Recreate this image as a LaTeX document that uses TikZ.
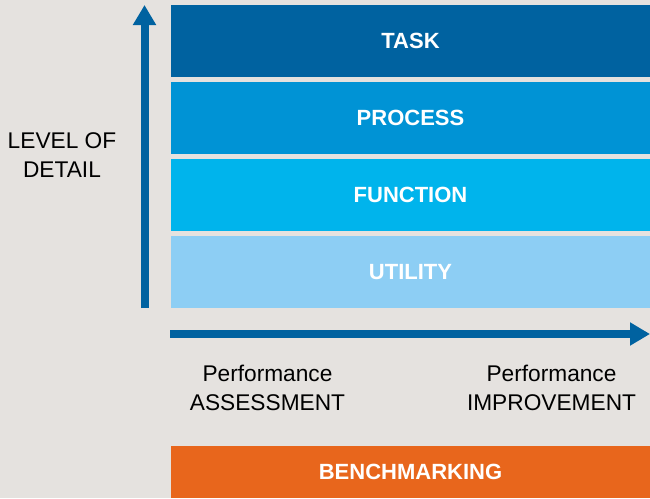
\documentclass[tikz,border=0pt]{standalone}
\usepackage{fontspec}
\setmainfont{Liberation Sans}
\usepackage{tikz}
\usetikzlibrary{arrows.meta}
\definecolor{bgpaper}{HTML}{E5E2DF}
\definecolor{taskblue}{HTML}{0062A0}
\definecolor{processblue}{HTML}{0093D5}
\definecolor{functionblue}{HTML}{00B4EC}
\definecolor{utilityblue}{HTML}{8DCEF4}
\definecolor{benchorange}{HTML}{E8661C}
\tikzset{
  levelbar/.style={rectangle, inner sep=0pt, minimum width=479pt, minimum height=72pt,
    text=white, font=\fontsize{22}{26}\selectfont\bfseries},
  axisarrow/.style={draw=taskblue, line width=8pt, -{Triangle[width=22pt,length=20pt]}},
  caption/.style={align=center, inner sep=0pt, font=\fontsize{22.7}{28.5}\selectfont}
}

\begin{document}
\begin{tikzpicture}[x=1pt, y=-1pt]
        \fill[bgpaper] (0, 0) rectangle (650, 498);
        \useasboundingbox (0, 0) rectangle (650, 498);
        % stacked levels
        \node[levelbar, fill=taskblue] (task) at (410.5, 41) {TASK};
        \node[levelbar, fill=processblue] (process) at (410.5, 118) {PROCESS};
        \node[levelbar, fill=functionblue] (function) at (410.5, 195) {FUNCTION};
        \node[levelbar, fill=utilityblue] (utility) at (410.5, 272) {UTILITY};
        \node[levelbar, fill=benchorange, minimum height=52pt] (bench) at (410.5, 472) {BENCHMARKING};
        % axes
        \coordinate (vstart) at (144.5, 308);
        \coordinate (vend) at (144.5, 5);
        \coordinate (hstart) at (170, 334);
        \coordinate (hend) at (650, 334);
        \draw[axisarrow] (vstart) -- (vend);
        \draw[axisarrow, line width=7.5pt] (hstart) -- (hend);
        \node[caption] (detail) at (62, 155) {LEVEL OF\\DETAIL};
        \node[caption] (assess) at (267.5, 388) {Performance\\ASSESSMENT};
        \node[caption] (improve) at (551.5, 388) {Performance\\IMPROVEMENT};
        \end{tikzpicture}
\end{document}
